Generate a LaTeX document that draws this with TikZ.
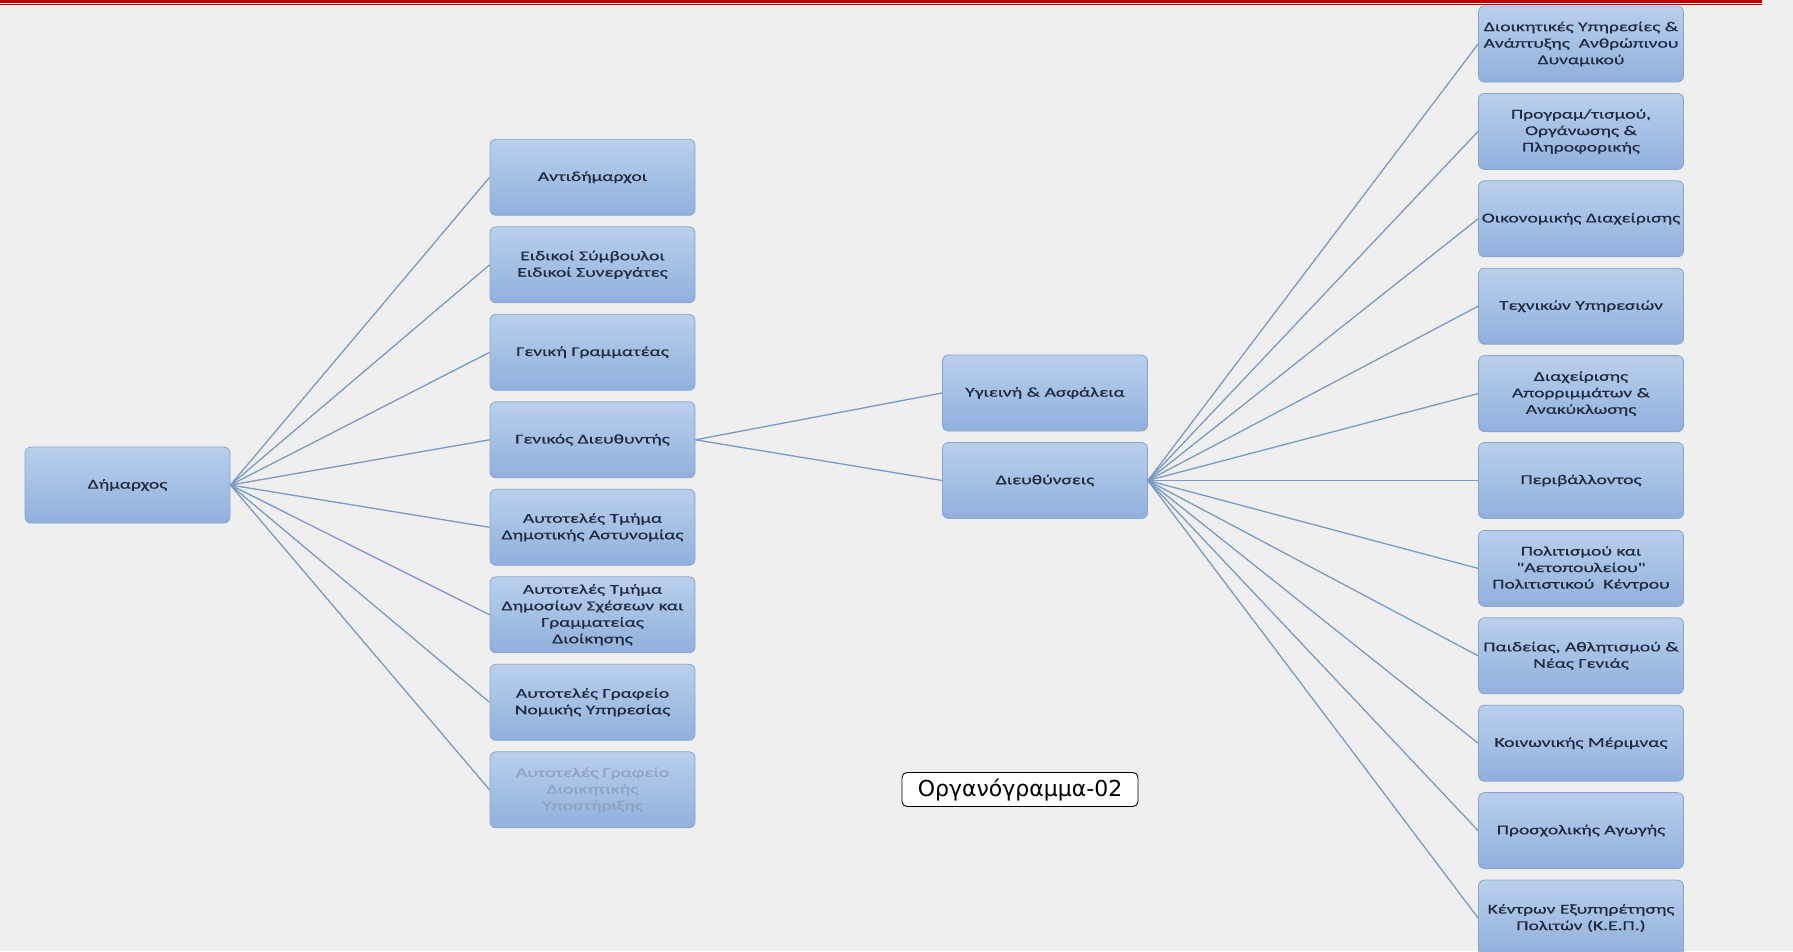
\documentclass[tikz,border=0pt]{standalone}
\usepackage{fontspec}
\setmainfont{Carlito}
\newfontfamily\boxfont[FakeStretch=1.45,FakeBold=0.6]{Carlito}
\newfontfamily\labfont{DejaVu Sans}
\definecolor{bgcol}{HTML}{EFEFEF}
\definecolor{boxtop}{HTML}{B9D0EC}
\definecolor{boxbot}{HTML}{90B0DC}
\definecolor{boxborder}{HTML}{88A5CF}
\definecolor{boxtext}{HTML}{1F2A40}
\definecolor{fadetext}{HTML}{8FA2C0}
\definecolor{linkcol}{HTML}{7B9BC0}
\definecolor{redline}{HTML}{C00000}
\tikzset{
  orgbox/.style={draw=boxborder, line width=0.8pt, rounded corners=6pt,
    top color=boxtop, bottom color=boxbot, text width=205pt,
    minimum height=76pt, inner xsep=0pt, inner ysep=2pt, align=center,
    font=\boxfont\fontsize{13.5}{16.5}\selectfont, text=boxtext},
  link/.style={draw=linkcol, line width=1.3pt},
  lab/.style={draw=black, rounded corners=5pt, fill=white, line width=0.9pt,
    minimum width=236pt, minimum height=34pt, inner sep=2pt,
    font=\labfont\fontsize{22}{25}\selectfont}
}
\begin{document}
\begin{tikzpicture}[x=1pt,y=-1pt]
\useasboundingbox (0,0) rectangle (1793,951);
\fill[bgcol] (0,0) rectangle (1793,951);
\draw[redline, line width=2.6pt] (0,1.3) -- (1762,1.3);
\draw[redline, line width=1.4pt] (0,4.6) -- (1762,4.6);

% root
\node[orgbox] (dim) at (127.5,485) {Δήμαρχος};

% left column
\node[orgbox] (l1) at (592.5,177.3) {Αντιδήμαρχοι};
\node[orgbox] (l2) at (592.5,264.8) {Ειδικοί Σύμβουλοι\\Ειδικοί Συνεργάτες};
\node[orgbox] (l3) at (592.5,352.3) {Γενική Γραμματέας};
\node[orgbox] (l4) at (592.5,439.8) {Γενικός Διευθυντής};
\node[orgbox] (l5) at (592.5,527.3) {Αυτοτελές Τμήμα\\Δημοτικής Αστυνομίας};
\node[orgbox] (l6) at (592.5,614.8) {Αυτοτελές Τμήμα\\Δημοσίων Σχέσεων και\\Γραμματείας\\Διοίκησης};
\node[orgbox] (l7) at (592.5,702.3) {Αυτοτελές Γραφείο\\Νομικής Υπηρεσίας};
\node[orgbox, text=fadetext] (l8) at (592.5,789.8) {Αυτοτελές Γραφείο\\Διοικητικής\\Υποστήριξης};

% middle
\node[orgbox] (m1) at (1045,393) {Υγιεινή \& Ασφάλεια};
\node[orgbox] (m2) at (1045,480.5) {Διευθύνσεις};

% right column
\node[orgbox] (r1) at (1581,44) {Διοικητικές Υπηρεσίες \&\\Ανάπτυξης\ \ Ανθρώπινου\\Δυναμικού};
\node[orgbox] (r2) at (1581,131.4) {Προγραμ/τισμού,\\Οργάνωσης \&\\Πληροφορικής};
\node[orgbox] (r3) at (1581,218.8) {Οικονομικής Διαχείρισης};
\node[orgbox] (r4) at (1581,306.2) {Τεχνικών Υπηρεσιών};
\node[orgbox] (r5) at (1581,393.6) {Διαχείρισης\\Απορριμμάτων \&\\Ανακύκλωσης};
\node[orgbox] (r6) at (1581,480.5) {Περιβάλλοντος};
\node[orgbox] (r7) at (1581,568.4) {Πολιτισμού και\\"Αετοπουλείου"\\Πολιτιστικού\ \ Κέντρου};
\node[orgbox] (r8) at (1581,655.8) {Παιδείας, Αθλητισμού \&\\Νέας Γενιάς};
\node[orgbox] (r9) at (1581,743.2) {Κοινωνικής Μέριμνας};
\node[orgbox] (r10) at (1581,830.6) {Προσχολικής Αγωγής};
\node[orgbox] (r11) at (1581,918) {Κέντρων Εξυπηρέτησης\\Πολιτών (Κ.Ε.Π.)};

% label
\node[lab] (tag) at (1020,789.5) {Οργανόγραμμα-02};

% connectors
\foreach \n in {l1,l2,l3,l4,l5,l6,l7,l8}
  \draw[link] (dim.east) -- (\n.west);
\draw[link] (l4.east) -- (m1.west);
\draw[link] (l4.east) -- (m2.west);
\foreach \n in {r1,r2,r3,r4,r5,r6,r7,r8,r9,r10,r11}
  \draw[link] (m2.east) -- (\n.west);
\end{tikzpicture}
\end{document}
